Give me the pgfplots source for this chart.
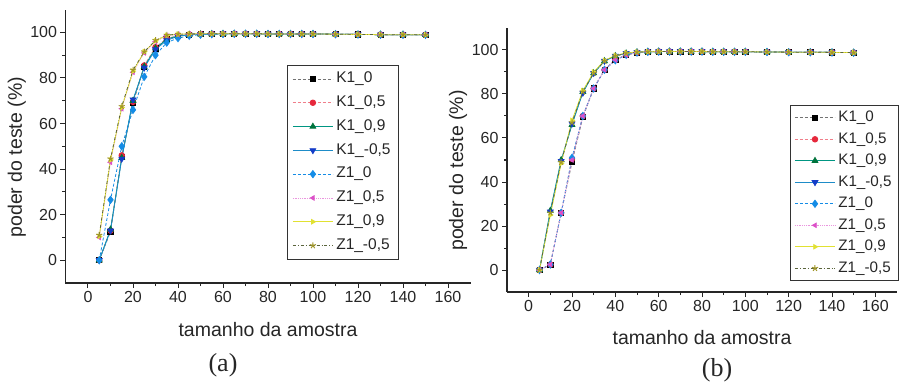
\documentclass[border=0pt]{standalone}
\usepackage{pgfplots}
\pgfplotsset{compat=1.18}
\usepackage{pgfplotstable}
\usepackage{fontspec}
\setmainfont{Liberation Sans}
\newfontfamily\serifcap{Liberation Serif}

\definecolor{cK0}{rgb}{0,0,0}
\definecolor{cK05}{RGB}{230,40,60}
\definecolor{cK09}{RGB}{0,115,60}
\definecolor{cK09l}{RGB}{0,150,130}
\definecolor{cKm05}{RGB}{20,60,200}
\definecolor{cKm05l}{RGB}{30,140,200}
\definecolor{cZ0}{RGB}{20,140,230}
\definecolor{cZ05}{RGB}{220,80,200}
\definecolor{cZ09}{RGB}{225,225,50}
\definecolor{cZm05}{RGB}{160,150,40}
\definecolor{cZm05l}{RGB}{90,100,60}

\pgfplotstableread{
x    K0    K05   K09   Km05  Z0    Z05   Z09   Zm05
5    0     0     0     0     0     10.0  10.5  11.0
10   12.5  13.0  13.5  13.0  26.5  43.0  44.0  44.5
15   45.5  46.0  45.0  44.5  50.0  66.5  67.0  67.5
20   69.0  69.5  70.0  70.5  66.0  82.5  83.0  83.5
25   85.0  85.5  85.0  84.5  80.5  91.0  91.5  91.5
30   93.0  93.5  93.0  92.5  90.0  96.0  96.3  96.5
35   97.0  97.3  97.0  96.5  95.5  98.5  98.7  98.8
40   98.5  98.6  98.5  98.3  97.5  99.1  99.2  99.2
45   99.0  99.0  99.0  98.9  98.5  99.3  99.3  99.3
50   99.2  99.3  99.2  99.2  99.0  99.4  99.4  99.4
55   99.3  99.3  99.3  99.3  99.2  99.4  99.4  99.4
60   99.4  99.4  99.4  99.4  99.3  99.4  99.4  99.4
65   99.4  99.4  99.4  99.4  99.4  99.4  99.4  99.4
70   99.4  99.4  99.4  99.4  99.4  99.4  99.4  99.4
75   99.4  99.4  99.4  99.4  99.4  99.4  99.4  99.4
80   99.3  99.3  99.3  99.3  99.3  99.3  99.3  99.3
85   99.3  99.3  99.3  99.3  99.3  99.3  99.3  99.3
90   99.3  99.3  99.3  99.3  99.3  99.3  99.3  99.3
95   99.3  99.3  99.3  99.3  99.3  99.3  99.3  99.3
100  99.3  99.3  99.3  99.3  99.3  99.3  99.3  99.3
110  99.2  99.2  99.2  99.2  99.2  99.2  99.2  99.2
120  99.1  99.1  99.1  99.1  99.1  99.1  99.1  99.1
130  99.0  99.0  99.0  99.0  99.0  99.0  99.0  99.0
140  99.0  99.0  99.0  99.0  99.0  99.0  99.0  99.0
150  98.9  98.9  98.9  98.9  98.9  98.9  98.9  98.9
}\tabA

\pgfplotstableread{
x    K0    K05   K09   Km05  Z0    Z05   Z09   Zm05
5    0     0     0     0     0     0     0     0
10   2.5   2.5   27.0  26.5  2.5   2.5   25.0  26.0
15   26.0  26.0  50.0  49.5  26.0  26.0  48.5  49.0
20   49.0  50.5  66.0  66.5  51.0  50.0  68.0  67.0
25   69.5  70.0  81.0  80.5  70.0  70.0  81.5  81.0
30   82.5  82.5  89.5  89.5  82.5  82.5  90.0  89.5
35   91.0  91.0  95.0  95.0  91.0  91.0  95.3  95.0
40   95.5  95.5  97.3  97.3  95.3  95.5  97.5  97.3
45   97.8  97.8  98.5  98.5  97.8  97.8  98.7  98.5
50   98.8  98.8  99.0  99.0  98.8  98.8  99.1  99.0
55   99.2  99.2  99.2  99.2  99.2  99.2  99.2  99.2
60   99.3  99.3  99.3  99.3  99.3  99.3  99.3  99.3
65   99.3  99.3  99.3  99.3  99.3  99.3  99.3  99.3
70   99.3  99.3  99.3  99.3  99.3  99.3  99.3  99.3
75   99.3  99.3  99.3  99.3  99.3  99.3  99.3  99.3
80   99.3  99.3  99.3  99.3  99.3  99.3  99.3  99.3
85   99.2  99.2  99.2  99.2  99.2  99.2  99.2  99.2
90   99.2  99.2  99.2  99.2  99.2  99.2  99.2  99.2
95   99.2  99.2  99.2  99.2  99.2  99.2  99.2  99.2
100  99.2  99.2  99.2  99.2  99.2  99.2  99.2  99.2
110  99.1  99.1  99.1  99.1  99.1  99.1  99.1  99.1
120  99.0  99.0  99.0  99.0  99.0  99.0  99.0  99.0
130  99.0  99.0  99.0  99.0  99.0  99.0  99.0  99.0
140  98.9  98.9  98.9  98.9  98.9  98.9  98.9  98.9
150  98.8  98.8  98.8  98.8  98.8  98.8  98.8  98.8
}\tabB

\pgfplotsset{
  sK0/.style={color=black!55, densely dashed, line width=0.8pt, mark=square*, mark size=2.6pt, mark options={solid, fill=cK0, draw=cK0}},
  sK05/.style={color=cK05!60, densely dashed, line width=0.8pt, mark=*, mark size=2.8pt, mark options={solid, fill=cK05, draw=cK05}},
  sK09/.style={color=cK09l, line width=0.8pt, mark=triangle*, mark size=3.3pt, mark options={solid, fill=cK09, draw=cK09}},
  sKm05/.style={color=cKm05l, line width=0.8pt, mark=triangle*, mark size=3.3pt, mark options={solid, rotate=180, fill=cKm05, draw=cKm05}},
  sZ0/.style={color=cZ0, densely dashed, line width=0.8pt, mark=diamond*, mark size=3.6pt, mark options={solid, fill=cZ0, draw=cZ0}},
  sZ05/.style={color=cZ05!60, densely dotted, line width=0.8pt, mark=triangle*, mark size=2.6pt, mark options={solid, rotate=90, fill=cZ05, draw=cZ05}},
  sZ09/.style={color=cZ09, line width=0.8pt, mark=triangle*, mark size=2.6pt, mark options={solid, rotate=270, fill=cZ09, draw=cZ09}},
  sZm05/.style={color=cZm05l, dash dot, line width=0.8pt, mark=star, mark size=3.2pt, mark options={solid, line width=1pt, draw=cZm05}},
  common/.style={
    scale only axis,
    axis lines*=left,
    axis line style={line width=1.3pt, black!85},
    xmin=-10, xmax=170, ymin=-10, ymax=110,
    xtick={0,20,...,160}, ytick={0,20,...,100},
    minor tick num=1,
    tick align=outside,
    major tick length=5pt, minor tick length=3pt,
    tick style={line width=1pt, black!85},
    /pgf/number format/assume math mode=true,
    tick label style={font=\fontsize{16}{18}\selectfont, text=black!85},
    label style={font=\fontsize{19.5}{22}\selectfont, text=black!85},
    xlabel={tamanho da amostra},
    ylabel={poder do teste (\%)},
    legend cell align=left,
    legend image code/.code={\draw[mark repeat=2,mark phase=2,##1] plot coordinates {(0pt,0pt) (20pt,0pt) (40pt,0pt)};},
  },
}

\begin{document}
\begin{tikzpicture}[x=1pt,y=1pt]
\useasboundingbox (0,0) rectangle (908,386);
\begin{axis}[common,
  at={(65.5pt,103pt)}, anchor=south west,
  width=405pt, height=273.4pt,
  xlabel style={at={(axis description cs:0.5,-0.172)}, anchor=center},
  ylabel style={at={(axis description cs:-0.12,0.46)}, anchor=center},
  legend style={at={(0.547,0.797)}, anchor=north west, draw=black!80, line width=0.9pt, row sep=9pt, inner xsep=5pt, inner ysep=6pt,
    nodes={font=\fontsize{15.5}{17}\selectfont, text=black!85, inner ysep=0pt, inner xsep=3pt, text height=11.2pt, text depth=3.6pt}},
]
\addplot[sK0] table[x=x,y=K0]{\tabA}; \addlegendentry{K1\_0}
\addplot[sK05] table[x=x,y=K05]{\tabA}; \addlegendentry{K1\_0,5}
\addplot[sK09] table[x=x,y=K09]{\tabA}; \addlegendentry{K1\_0,9}
\addplot[sKm05] table[x=x,y=Km05]{\tabA}; \addlegendentry{K1\_-0,5}
\addplot[sZ0] table[x=x,y=Z0]{\tabA}; \addlegendentry{Z1\_0}
\addplot[sZ05] table[x=x,y=Z05]{\tabA}; \addlegendentry{Z1\_0,5}
\addplot[sZ09] table[x=x,y=Z09]{\tabA}; \addlegendentry{Z1\_0,9}
\addplot[sZm05] table[x=x,y=Zm05]{\tabA}; \addlegendentry{Z1\_-0,5}
\end{axis}
\begin{axis}[common,
  at={(507pt,94pt)}, anchor=south west,
  width=390pt, height=264pt,
  xlabel style={at={(axis description cs:0.5,-0.174)}, anchor=center},
  ylabel style={at={(axis description cs:-0.1256,0.46)}, anchor=center},
  legend style={at={(0.726,0.708)}, anchor=north west, draw=black!80, line width=0.9pt, row sep=7pt, inner xsep=4pt, inner ysep=5pt,
    nodes={font=\fontsize{15.2}{17}\selectfont, text=black!85, inner ysep=0pt, inner xsep=3pt, text height=11pt, text depth=3.5pt}},
]
\addplot[sK0] table[x=x,y=K0]{\tabB}; \addlegendentry{K1\_0}
\addplot[sK05] table[x=x,y=K05]{\tabB}; \addlegendentry{K1\_0,5}
\addplot[sK09] table[x=x,y=K09]{\tabB}; \addlegendentry{K1\_0,9}
\addplot[sKm05] table[x=x,y=Km05]{\tabB}; \addlegendentry{K1\_-0,5}
\addplot[sZ0] table[x=x,y=Z0]{\tabB}; \addlegendentry{Z1\_0}
\addplot[sZ05] table[x=x,y=Z05]{\tabB}; \addlegendentry{Z1\_0,5}
\addplot[sZ09] table[x=x,y=Z09]{\tabB}; \addlegendentry{Z1\_0,9}
\addplot[sZm05] table[x=x,y=Zm05]{\tabB}; \addlegendentry{Z1\_-0,5}
\end{axis}
\node[font=\serifcap\fontsize{26}{28}\selectfont, text=black!85] at (223,386-365) {(a)};
\node[font=\serifcap\fontsize{26}{28}\selectfont, text=black!85] at (717,386-370) {(b)};
\end{tikzpicture}
\end{document}
